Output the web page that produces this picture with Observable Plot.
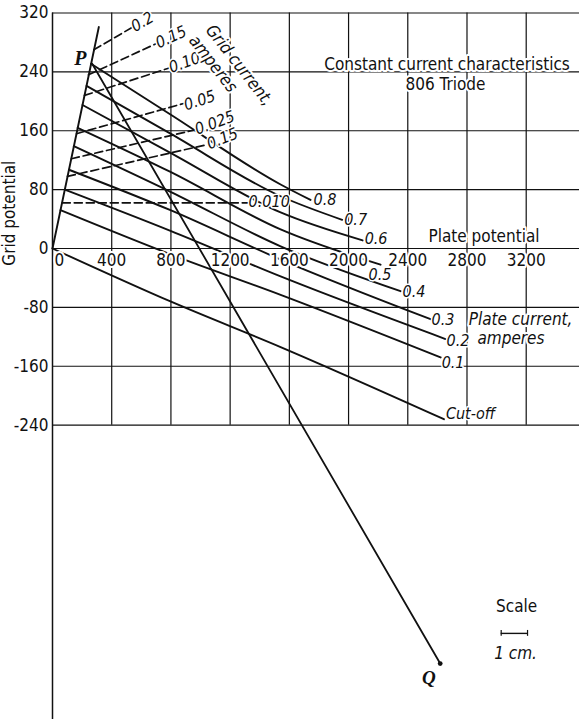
<!DOCTYPE html>
<html>
<head>
<meta charset="utf-8">
<script src="https://cdn.jsdelivr.net/npm/d3@7"></script>
<script src="https://cdn.jsdelivr.net/npm/@observablehq/plot@0.6"></script>
<style>
  html, body { margin: 0; padding: 0; background: #fff; }
  #chart svg { display: block; }
</style>
</head>
<body>
<div id="chart"></div>
<script>
// ---------- data (volts) ----------
const xTickValues = [0, 400, 800, 1200, 1600, 2000, 2400, 2800, 3200];
const yTickValues = [320, 240, 160, 80, 0, -80, -160, -240];

// plate-current constant-current curves (solid)
const plateCurrents = ["0.8", "0.7", "0.6", "0.5", "0.4", "0.3", "0.2", "0.1", "Cut-off"];
const plateCurvePoints = [
  [[261, 251], [797, 182], [1541, 87], [1743, 66]],
  [[230, 221], [797, 156], [1541, 71], [1957, 39]],
  [[203, 195], [797, 130], [1541, 49], [2095, 11]],
  [[170, 164], [797, 104], [1541, 26], [2216, -22]],
  [[144, 139], [797, 77], [1541, 3], [2351, -58]],
  [[111, 107], [797, 52], [1541, -15], [2554, -96]],
  [[83, 80], [797, 24], [1541, -38], [2655, -123]],
  [[54, 52], [797, -8], [1541, -63], [2622, -148]],
  [[0, 0], [797, -72], [1541, -134], [2644, -232]]
];

// grid-current curves (dashed)
const gridCurrents = ["0.2", "0.15", "0.10", "0.05", "0.025", "0.15", "0.010"];
const gridCurvePoints = [
  [[279, 270], [534, 300]],
  [[243, 236], [696, 278]],
  [[216, 208], [784, 245]],
  [[162, 156], [885, 197]],
  [[128, 122], [959, 161]],
  [[101, 98], [1041, 141]],
  [[66, 62], [1318, 62]]
];

// boundary (positive-grid limit) line and load line P-Q
const boundaryLine = [[0, 0], [313, 301]];
const loadLineP = [268, 251];
const loadLineQ = [2619, -564];

// ---------- layout helpers (not data) ----------
const FONT = "'Liberation Sans Narrow','DejaVu Sans Condensed','Liberation Sans',Arial,sans-serif";
const INK = "#111";
const plateLabelOffsets = [[3, 0], [2, 0], [2, -2], [-12, 10], [2, 1], [1, 1], [1, 2], [1, 5], [2, -5]];
const gridLabelRotate = [-30, -25, -20, -18, -20, -22, 0];
const gridLabelDy = [0, 0, 0, 2, 0, 0, -1];

const plateRows = plateCurrents.flatMap((c, i) => plateCurvePoints[i].map(([x, y]) => ({c, x, y})));
const gridRows = gridCurrents.flatMap((c, i) => gridCurvePoints[i].map(([x, y]) => ({c: c + "#" + i, x, y})));

const halo = {stroke: "white", strokeWidth: 4};

const marks = [
  // grid
  Plot.ruleX(xTickValues.filter(d => d > 0), {y1: -240, y2: 320, stroke: INK, strokeWidth: 1.2}),
  Plot.ruleY(yTickValues, {x1: 0, x2: 3560, stroke: INK, strokeWidth: 1.2}),
  Plot.ruleX([0], {y1: -640, y2: 320, stroke: INK, strokeWidth: 1.5}),
  // boundary + load line
  Plot.line(boundaryLine, {x: d => d[0], y: d => d[1], stroke: INK, strokeWidth: 1.9}),
  Plot.line([loadLineP, loadLineQ], {x: d => d[0], y: d => d[1], stroke: INK, strokeWidth: 1.8}),
  Plot.dot([loadLineQ], {x: d => d[0], y: d => d[1], r: 2.4, fill: INK}),
  // grid current curves
  Plot.line(gridRows, {x: "x", y: "y", z: "c", stroke: INK, strokeWidth: 1.7, strokeDasharray: "8,4"}),
  // plate current curves
  Plot.line(plateRows, {x: "x", y: "y", z: "c", curve: "monotone-x", stroke: INK, strokeWidth: 1.9}),
  // x tick labels
  Plot.text(xTickValues.filter(d => d > 0), {x: d => d, y: 0, text: d => String(d), dy: 12,
    textAnchor: "middle", fontSize: 17, fill: INK, ...halo}),
  Plot.text([0], {x: 0, y: 0, text: d => "0", dy: 12, dx: 2, textAnchor: "start", fontSize: 17, fill: INK, ...halo}),
  // y tick labels
  Plot.text(yTickValues, {x: 0, y: d => d, text: d => (d < 0 ? "-" + Math.abs(d) : String(d)), dx: -4,
    textAnchor: "end", fontSize: 17, fill: INK}),
  // plate current labels
  ...plateCurrents.map((c, i) => {
    const p = plateCurvePoints[i][plateCurvePoints[i].length - 1];
    return Plot.text([c], {x: p[0], y: p[1], text: d => d, textAnchor: "start",
      dx: plateLabelOffsets[i][0], dy: plateLabelOffsets[i][1], fontSize: 16, fontStyle: "italic",
      fill: INK, ...halo, strokeWidth: 3});
  }),
  // grid current labels
  ...gridCurrents.map((c, i) => {
    const p = gridCurvePoints[i][1];
    return Plot.text([c], {x: p[0], y: p[1], text: d => d, textAnchor: "start", dx: 1, dy: gridLabelDy[i],
      rotate: gridLabelRotate[i], fontSize: 16, fontStyle: "italic", fill: INK, ...halo, strokeWidth: 3});
  }),
  // titles & annotations
  Plot.text(["Constant current characteristics"], {x: 2665, y: 250, text: d => d, fontSize: 17, fill: INK, ...halo}),
  Plot.text(["806 Triode"], {x: 2655, y: 223, text: d => d, fontSize: 17, fill: INK, ...halo}),
  Plot.text(["Plate potential"], {x: 2915, y: 16, text: d => d, fontSize: 17, fill: INK, ...halo}),
  Plot.text(["Plate current,"], {x: 3162, y: -96, text: d => d, fontSize: 17, fontStyle: "italic", fill: INK, ...halo}),
  Plot.text(["amperes"], {x: 3097, y: -122, text: d => d, fontSize: 17, fontStyle: "italic", fill: INK, ...halo}),
  Plot.text(["Grid current,"], {x: 1262, y: 249, text: d => d, rotate: 52, fontSize: 17, fontStyle: "italic", fill: INK, ...halo}),
  Plot.text(["amperes"], {x: 1085, y: 251, text: d => d, rotate: 52, fontSize: 17, fontStyle: "italic", fill: INK, ...halo}),
  Plot.text(["Grid potential"], {x: -290, y: 48, text: d => d, rotate: -90, fontSize: 17, fill: INK}),
  Plot.text(["P"], {x: 189, y: 258, text: d => d, fontSize: 20, fontWeight: "bold", fontStyle: "italic",
    fontFamily: "'Liberation Serif','DejaVu Serif',serif", fill: INK, ...halo, strokeWidth: 2}),
  Plot.text(["Q"], {x: 2543, y: -583, text: d => d, fontSize: 19, fontWeight: "bold", fontStyle: "italic",
    fontFamily: "'Liberation Serif','DejaVu Serif',serif", fill: INK}),
  Plot.text(["Scale"], {x: 3135, y: -486, text: d => d, fontSize: 17, fill: INK}),
  Plot.ruleY([-523], {x1: 3031, x2: 3209, stroke: INK, strokeWidth: 1.4}),
  Plot.ruleX([3031, 3209], {y1: -519, y2: -527, stroke: INK, strokeWidth: 1.2}),
  Plot.text(["1 cm."], {x: 3128, y: -550, text: d => d, fontSize: 17, fontStyle: "italic", fill: INK})
];

const chart = Plot.plot({
  width: 579,
  height: 719,
  marginLeft: 52,
  marginRight: 0,
  marginTop: 12.5,
  marginBottom: 0,
  x: {domain: [0, 3560], axis: null},
  y: {domain: [-640, 320], axis: null},
  style: {fontFamily: FONT, background: "white", color: INK, overflow: "visible"},
  marks
});
document.getElementById("chart").appendChild(chart);
</script>
</body>
</html>
